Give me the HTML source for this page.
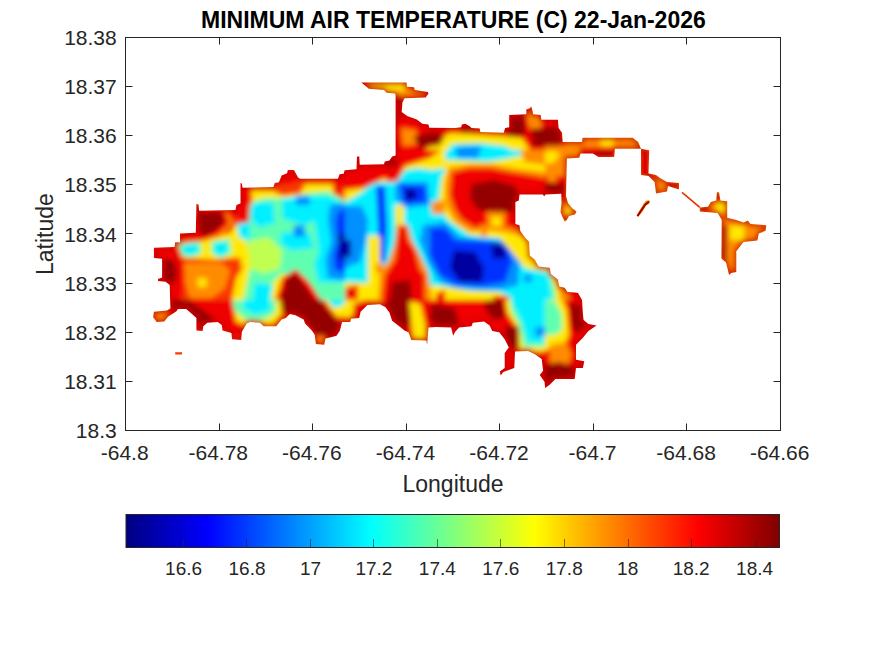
<!DOCTYPE html>
<html><head><meta charset="utf-8"><style>
html,body{margin:0;padding:0;background:#fff;width:875px;height:656px;overflow:hidden}
svg{display:block}
text{font-family:"Liberation Sans",sans-serif;fill:#262626}
</style></head><body>
<svg width="875" height="656" viewBox="0 0 875 656">
<defs>
<linearGradient id="jet" x1="0" x2="1" y1="0" y2="0">
<stop offset="0" stop-color="#000080"/>
<stop offset="0.125" stop-color="#0000ff"/>
<stop offset="0.375" stop-color="#00ffff"/>
<stop offset="0.625" stop-color="#ffff00"/>
<stop offset="0.875" stop-color="#ff0000"/>
<stop offset="1" stop-color="#800000"/>
</linearGradient>
</defs>
<defs><clipPath id="isl"><path d="M153.9 247.8L174.5 246.9L175.2 242.3L180.0 242.3L180.0 233.4L195.8 232.7L196.4 203.9L198.5 204.6L199.2 210.8L235.5 210.0L236.4 204.9L240.5 203.5L240.5 182.9L241.9 183.6L242.5 187.7L273.4 187.0L274.8 182.9L278.9 182.2L281.6 175.4L287.1 173.3L287.8 169.9L294.0 169.9L298.1 177.4L300.2 178.8L337.9 178.8L339.6 174.3L343.7 173.8L344.6 170.2L356.5 169.3L357.0 156.5L359.3 156.5L359.7 164.7L383.9 164.2L384.8 161.5L389.4 160.6L392.2 156.5L395.6 155.5L395.6 94.9L394.9 93.5L386.6 92.8L383.9 90.1L368.8 88.7L364.7 85.3L361.3 82.5L406.5 82.5L407.0 86.7L414.0 87.3L414.8 90.0L427.8 92.0L428.5 93.5L425.7 97.6L404.5 98.3L402.4 102.4L401.7 112.0L407.2 116.0L416.8 119.6L422.3 123.7L428.5 124.4L429.2 127.8L455.0 127.9L461.2 127.2L461.9 124.5L465.3 123.8L469.4 125.9L471.5 127.9L479.7 128.6L480.4 132.0L503.7 132.7L505.1 127.9L509.2 127.2L509.2 114.9L526.3 114.2L526.3 109.4L530.4 108.0L531.1 106.0L532.5 110.8L533.2 114.2L540.7 114.9L541.4 119.7L557.9 119.7L558.6 127.9L562.0 132.7L562.7 142.0L582.0 142.0L582.6 137.8L632.7 137.8L638.2 142.0L641.0 148.8L649.2 150.2L648.5 173.5L656.0 175.0L660.0 178.0L667.0 182.0L679.0 183.0L679.0 189.6L668.0 186.0L667.0 191.5L656.0 193.4L654.6 182.0L648.5 176.0L641.0 175.0L641.0 148.8L614.9 148.8L614.2 157.0L598.4 157.0L592.9 153.6L580.6 153.6L579.2 157.7L566.9 158.4L566.2 187.2L566.0 196.0L568.0 203.0L572.0 208.0L576.5 211.5L575.0 214.5L569.0 216.0L566.8 220.0L564.7 221.5L562.0 216.0L560.5 212.0L561.5 203.0L561.3 193.7L545.5 194.4L544.2 196.5L542.8 194.4L519.5 194.4L518.8 200.6L515.4 202.0L515.4 223.9L519.5 225.3L520.2 230.8L525.0 237.6L529.1 241.7L529.8 255.4L534.6 259.6L538.7 266.4L549.7 267.8L551.0 274.1L557.9 279.6L559.3 286.5L564.7 287.8L567.5 292.0L575.0 292.6L578.0 293.0L582.0 300.0L583.0 315.0L583.6 320.0L588.4 324.1L596.6 325.5L588.4 331.0L582.9 337.8L576.0 344.7L576.0 359.8L584.3 361.2L582.9 368.0L576.0 368.0L574.7 379.0L555.4 379.0L550.0 384.5L545.2 387.9L544.5 381.7L539.7 374.9L543.1 370.8L541.7 359.1L534.9 354.3L528.0 350.9L515.0 351.6L514.3 368.0L503.3 372.1L500.6 375.6L499.9 371.4L504.7 368.0L504.7 352.9L508.8 347.4L504.7 339.2L499.2 332.3L492.3 331.0L489.6 325.5L484.1 321.4L472.8 322.8L471.5 326.2L459.1 327.6L455.2 331.7L453.2 335.8L451.1 327.6L436.0 326.9L428.5 327.6L427.1 344.8L426.4 340.6L411.3 340.0L408.6 332.4L404.5 330.4L397.6 324.9L392.1 320.8L389.4 312.5L385.3 307.0L379.8 304.3L367.4 305.0L360.6 311.8L359.2 318.0L351.0 318.7L350.3 322.1L342.1 322.1L340.0 330.4L336.5 335.8L331.0 337.2L325.5 338.6L324.2 344.8L315.9 344.1L314.6 334.5L311.8 330.4L305.0 323.5L303.6 319.4L295.4 315.3L289.9 313.9L285.8 318.0L281.6 319.4L276.2 326.2L263.8 326.2L259.7 322.8L250.1 322.1L246.7 323.5L241.9 331.7L241.2 340.0L232.1 339.3L231.4 333.1L222.5 330.4L221.8 324.9L217.7 322.1L207.4 322.8L203.3 326.2L202.6 331.0L196.4 330.4L196.4 318.0L190.3 312.5L186.2 309.1L177.9 309.1L176.5 311.2L168.3 316.6L164.2 321.4L156.7 322.1L153.2 317.3L153.9 311.8L167.0 310.5L170.4 308.4L169.7 285.1L165.6 281.7L158.0 281.0L158.0 278.9L162.1 277.5L162.1 258.8L153.9 258.1ZM699.8 207.4L699.8 211.6L717.6 212.9L721.7 219.8L721.4 258.5L726.0 262.6L729.1 275.0L731.2 272.9L736.3 271.9L736.3 251.3L743.5 242.0L757.4 240.4L758.8 233.5L765.6 230.8L766.3 225.3L750.5 223.9L747.8 220.5L743.7 222.5L735.4 219.8L727.2 217.7L727.2 201.3L720.4 200.6L719.0 192.3L716.9 192.3L716.2 200.6L710.8 202.0L708.0 206.7ZM175.2 352.3L182.0 352.3L182.0 354.6L175.2 354.6ZM646.4 200.5L650.0 200.5L649.0 204.0L646.0 205.0L643.0 211.0L638.0 217.0L636.5 215.5L641.0 208.0L644.0 203.0Z"/></clipPath>
<clipPath id="tc0"><rect x="140" y="70" width="205" height="230"/></clipPath>
<clipPath id="tc1"><rect x="345" y="150" width="200" height="150"/></clipPath>
<clipPath id="tc2"><rect x="345" y="70" width="200" height="80"/></clipPath>
<clipPath id="tc3"><rect x="545" y="70" width="240" height="200"/></clipPath>
<clipPath id="tc4"><rect x="140" y="300" width="205" height="100"/></clipPath>
<clipPath id="tc5"><rect x="345" y="300" width="200" height="100"/></clipPath>
<clipPath id="tc6"><rect x="545" y="300" width="60" height="100"/></clipPath>
<clipPath id="tc7"><rect x="545" y="270" width="60" height="30"/></clipPath>
<filter id="bl" x="-5%" y="-5%" width="110%" height="110%"><feGaussianBlur stdDeviation="2.6"/></filter>
</defs>
<g clip-path="url(#isl)">
<g filter="url(#bl)">
<rect x="140" y="70" width="640" height="330" fill="#f83800"/>
<g clip-path="url(#tc0)">
<path d="M177.0 241.4L199.9 236.9L220.4 227.7L231.9 218.6L241.0 216.3L245.6 195.7L252.4 191.1L273.0 191.1L282.1 195.7L300.4 193.4L305.0 184.3L332.4 184.3L334.7 204.9L345.0 202.6L345.0 299.9L231.9 299.9L236.4 278.0L247.9 259.7L236.4 257.4L213.6 259.7L181.6 257.4Z" fill="#ffe800"/>
<path d="M243.3 218.6L252.4 202.6L263.9 198.0L286.7 198.0L305.0 193.4L327.9 191.1L345.0 200.3L345.0 299.9L318.7 299.9L305.0 278.0L282.1 273.4L273.0 282.6L263.9 299.9L243.3 299.9L247.9 278.0L252.4 257.4L245.6 241.4ZM179.3 243.7L199.9 241.4L202.1 252.9L190.7 257.4L179.3 255.1ZM211.3 241.4L229.6 239.1L231.9 252.9L220.4 258.6L211.3 252.9Z" fill="#60ffb0"/>
<path d="M183.9 244.9L197.6 243.7L198.7 252.9L188.4 255.1L182.7 251.7ZM214.7 242.6L227.3 241.4L228.4 252.9L218.1 256.3L213.6 251.7ZM252.4 202.6L273.0 202.6L275.3 223.1L259.3 227.7L250.1 218.6ZM282.1 232.3L309.6 232.3L314.1 248.3L291.3 250.6L279.9 243.7ZM311.9 195.7L327.9 195.7L345.0 204.9L345.0 282.6L318.7 282.6L314.1 264.3L318.7 250.6L314.1 218.6ZM254.7 282.6L273.0 284.9L270.7 299.9L252.4 299.9ZM237.0 224.0L250.0 220.0L250.0 240.0L239.0 238.0Z" fill="#00f0ff"/>
<path d="M282.1 198.0L318.7 195.7L318.7 218.6L305.0 225.4L282.1 218.6Z" fill="#00f0ff"/>
<path d="M247.9 241.4L268.4 236.9L282.1 250.6L279.9 268.9L263.9 273.4L250.1 268.9Z" fill="#c0ff50"/>
<path d="M330.1 204.9L345.0 202.6L345.0 280.3L327.9 278.0L325.6 259.7L331.3 241.4L327.9 218.6ZM295.9 195.7L309.6 195.7L309.6 204.9L295.9 204.9ZM293.6 225.4L305.0 225.4L305.0 236.9L293.6 236.9Z" fill="#0090ff"/>
<path d="M338.1 211.7L345.0 209.4L345.0 273.4L334.7 268.9L333.6 255.1L338.1 241.4L335.9 223.1Z" fill="#0030ff"/>
<path d="M338.1 234.6L345.0 232.3L345.0 262.0L339.3 259.7Z" fill="#0000a0"/>
<path d="M241.0 184.3L250.1 186.6L252.4 200.3L245.6 216.3L236.4 218.6L231.9 214.0L236.4 195.7ZM277.6 170.6L295.9 170.6L300.4 179.7L291.3 184.3L279.9 184.3ZM334.7 170.6L345.0 170.6L345.0 184.3L337.0 195.7L334.7 182.0ZM154.1 248.3L179.3 248.3L186.1 268.9L181.6 299.9L158.7 299.9L154.1 278.0Z" fill="#f00000"/>
<path d="M184.0 263.0L222.0 263.0L230.0 271.0L225.0 288.0L212.0 298.0L190.0 298.0L185.0 282.0Z" fill="#ff8c00"/>
<path d="M236.0 183.0L245.0 183.0L250.0 200.0L249.0 222.0L238.0 224.0ZM197.0 210.0L234.0 210.0L238.0 222.0L230.0 233.0L205.0 240.0L197.0 236.0Z" fill="#f00000"/>
<path d="M179.3 234.6L197.6 211.7L227.3 211.7L234.1 223.1L220.4 236.9L202.1 241.4L181.6 243.7Z" fill="#ff8c00"/>
<path d="M179.3 235.7L197.6 211.7L225.0 212.9L229.6 223.1L218.1 234.6L202.1 240.3L181.6 241.4ZM282.1 278.0L295.9 268.9L309.6 282.6L321.0 299.9L275.3 299.9L279.9 287.1Z" fill="#f00000"/>
<path d="M198.7 210.6L220.4 212.9L225.0 220.9L215.9 230.0L204.4 236.9L199.9 232.3ZM158.7 259.7L174.7 259.7L177.0 278.0L170.1 287.1L161.0 280.3ZM286.7 278.0L295.9 273.4L305.0 287.1L314.1 299.9L279.9 299.9L284.4 289.4Z" fill="#940000"/>
<path d="M197.6 278.0L206.7 278.0L206.7 287.1L197.6 287.1ZM241.0 257.4L247.9 257.4L247.9 266.6L241.0 266.6Z" fill="#ffe800"/>
</g>
<g clip-path="url(#tc1)">
<path d="M345.0 150.0L545.0 150.0L545.0 300.0L345.0 300.0Z" fill="#00f0ff"/>
<path d="M345.0 206.0L362.0 206.0L368.0 220.0L366.0 240.0L360.0 262.0L345.0 268.0ZM396.0 182.0L428.0 182.0L430.0 205.0L405.0 208.0L395.0 198.0ZM423.0 225.0L445.0 222.0L460.0 237.0L500.0 240.0L515.0 245.0L520.0 260.0L518.0 285.0L500.0 290.0L480.0 290.0L455.0 288.0L440.0 282.0L428.0 262.0L420.0 240.0ZM455.0 150.0L480.0 150.0L478.0 158.0L458.0 158.0ZM524.0 275.0L532.0 275.0L532.0 282.0L524.0 282.0Z" fill="#0090ff"/>
<path d="M376.0 186.0L385.0 186.0L387.0 228.0L385.0 262.0L377.0 262.0L378.0 226.0ZM400.0 185.0L425.0 186.0L426.0 202.0L404.0 204.0ZM430.0 228.0L445.0 228.0L455.0 240.0L490.0 242.0L508.0 248.0L512.0 262.0L505.0 282.0L482.0 286.0L455.0 284.0L440.0 275.0L430.0 255.0Z" fill="#0030ff"/>
<path d="M345.0 240.0L351.0 240.0L351.0 257.0L345.0 257.0ZM405.0 189.0L416.0 189.0L416.0 200.0L405.0 200.0ZM454.0 250.0L475.0 252.0L484.0 268.0L482.0 282.0L460.0 282.0L450.0 268.0ZM491.0 243.0L504.0 244.0L506.0 258.0L493.0 259.0Z" fill="#0000a0"/>
<path d="M345.0 150.0L445.0 150.0L445.0 168.0L432.0 170.0L418.0 168.0L405.0 170.0L396.0 182.0L380.0 182.0L370.0 184.0L362.0 192.0L352.0 198.0L345.0 202.0ZM445.0 160.0L492.0 162.0L545.0 150.0L545.0 180.0L445.0 180.0ZM442.0 175.0L460.0 166.0L500.0 160.0L545.0 165.0L545.0 236.0L519.0 236.0L525.0 268.0L500.0 238.0L470.0 235.0L448.0 220.0L438.0 205.0ZM395.0 205.0L404.0 205.0L404.0 253.0L396.0 253.0ZM368.0 236.0L380.0 236.0L380.0 290.0L368.0 289.0ZM345.0 282.0L440.0 286.0L470.0 291.0L500.0 292.0L512.0 300.0L345.0 300.0ZM519.0 236.0L545.0 236.0L545.0 272.0L525.0 268.0Z" fill="#ffe800"/>
<path d="M448.0 168.0L470.0 164.0L492.0 164.0L512.0 168.0L545.0 172.0L545.0 236.0L520.0 236.0L504.0 232.0L488.0 230.0L470.0 232.0L455.0 222.0L446.0 205.0L445.0 185.0ZM520.0 150.0L545.0 150.0L545.0 165.0L525.0 162.0ZM397.0 225.0L408.0 225.0L412.0 240.0L420.0 255.0L428.0 272.0L432.0 300.0L378.0 300.0L380.0 270.0L388.0 262.0L394.0 245.0Z" fill="#ff8c00"/>
<path d="M345.0 150.0L441.0 150.0L430.0 158.0L418.0 162.0L405.0 166.0L398.0 180.0L390.0 182.0L385.0 178.0L364.0 188.0L345.0 190.0ZM385.0 167.0L395.0 167.0L393.0 182.0L387.0 182.0ZM452.0 172.0L470.0 168.0L490.0 168.0L510.0 172.0L535.0 176.0L545.0 178.0L545.0 232.0L522.0 232.0L512.0 228.0L504.0 226.0L488.0 225.0L475.0 228.0L462.0 220.0L455.0 210.0L450.0 195.0ZM399.0 225.0L406.0 225.0L408.0 240.0L415.0 250.0L420.0 270.0L425.0 275.0L425.0 300.0L382.0 300.0L385.0 275.0L395.0 260.0ZM345.0 288.0L358.0 285.0L358.0 300.0L345.0 300.0ZM436.0 294.0L445.0 290.0L445.0 300.0L436.0 300.0ZM493.0 296.0L509.0 296.0L509.0 300.0L493.0 300.0Z" fill="#f00000"/>
<path d="M382.0 158.0L395.0 154.0L398.0 165.0L386.0 168.0ZM472.0 184.0L495.0 180.0L515.0 186.0L521.0 200.0L512.0 212.0L495.0 212.0L478.0 210.0L470.0 198.0ZM392.0 282.0L410.0 280.0L412.0 300.0L390.0 300.0Z" fill="#940000"/>
<path d="M487.0 212.0L505.0 212.0L505.0 226.0L487.0 226.0Z" fill="#ff8c00"/>
<path d="M492.0 217.0L501.0 217.0L501.0 226.0L492.0 226.0Z" fill="#ffe800"/>
<path d="M431.0 202.0L445.0 200.0L445.0 214.0L432.0 214.0ZM376.0 263.0L383.0 263.0L383.0 273.0L376.0 273.0ZM480.0 225.0L488.0 225.0L487.0 237.0L481.0 237.0Z" fill="#ff8c00"/>
</g>
<g clip-path="url(#tc2)">
<path d="M345.0 70.0L545.0 70.0L545.0 150.0L345.0 150.0Z" fill="#f00000"/>
<path d="M361.0 82.0L407.0 82.0L415.0 87.0L428.0 92.0L426.0 97.0L405.0 98.0L395.0 95.0L384.0 92.0L368.0 90.0ZM401.0 128.0L416.0 130.0L418.0 144.0L403.0 146.0ZM525.0 111.0L533.0 106.0L541.0 115.0L541.0 128.0L530.0 129.0Z" fill="#ff8c00"/>
<path d="M361.0 82.0L406.0 82.0L412.0 88.0L400.0 91.0L385.0 90.0L370.0 87.0ZM425.0 150.0L438.0 140.0L450.0 133.0L470.0 134.0L500.0 136.0L522.0 138.0L530.0 150.0Z" fill="#ffe800"/>
<path d="M448.0 150.0L452.0 144.0L480.0 143.0L505.0 146.0L512.0 150.0Z" fill="#00f0ff"/>
<path d="M456.0 147.0L480.0 146.0L482.0 150.0L456.0 150.0Z" fill="#0090ff"/>
<path d="M395.0 95.0L404.0 97.0L402.0 112.0L398.0 125.0L395.0 125.0ZM413.0 137.0L432.0 132.0L445.0 135.0L440.0 145.0L420.0 148.0ZM461.0 123.0L480.0 127.0L480.0 133.0L462.0 133.0ZM506.0 116.0L525.0 116.0L525.0 136.0L508.0 137.0ZM531.0 129.0L545.0 128.0L545.0 146.0L533.0 146.0Z" fill="#940000"/>
</g>
<g clip-path="url(#tc3)">
<path d="M545.0 70.0L785.0 70.0L785.0 300.0L545.0 300.0Z" fill="#ff8c00"/>
<path d="M545.0 110.0L565.0 110.0L566.0 146.0L545.0 146.0ZM580.0 147.0L615.0 147.0L615.0 160.0L580.0 160.0ZM640.0 149.0L650.0 149.0L650.0 176.0L640.0 176.0ZM545.0 176.0L567.0 176.0L567.0 200.0L545.0 200.0Z" fill="#f00000"/>
<path d="M545.0 126.0L563.0 128.0L563.0 145.0L545.0 146.0ZM594.0 151.0L611.0 151.0L611.0 158.0L594.0 158.0Z" fill="#940000"/>
<path d="M545.0 148.0L556.0 146.0L574.0 149.0L567.0 160.0L558.0 170.0L545.0 172.0Z" fill="#ff8c00"/>
<path d="M545.0 152.0L552.0 151.0L560.0 153.0L555.0 162.0L545.0 164.0ZM600.0 138.0L614.0 138.0L613.0 146.0L601.0 146.0ZM716.0 203.0L726.0 203.0L726.0 212.0L716.0 212.0ZM730.0 226.0L744.0 226.0L744.0 240.0L730.0 240.0ZM566.0 205.0L572.0 208.0L572.0 214.0L566.0 214.0Z" fill="#ffe800"/>
<path d="M548.0 170.0L556.0 170.0L556.0 182.0L548.0 182.0Z" fill="#ff8c00"/>
<path d="M720.0 225.0L727.0 225.0L727.0 262.0L720.0 262.0ZM545.0 182.0L566.0 184.0L566.0 194.0L545.0 194.0Z" fill="#940000"/>
</g>
<g clip-path="url(#tc4)">
<path d="M222.7 290.0L282.1 290.0L282.1 312.9L273.0 324.3L247.9 326.6L227.3 319.7L220.4 303.7Z" fill="#ffe800"/>
<path d="M320.0 290.0L345.0 290.0L345.0 316.0L337.0 317.0L328.0 305.0ZM302.0 290.0L312.0 290.0L310.0 296.0L302.0 296.0Z" fill="#ffe800"/>
<path d="M231.9 290.0L277.6 290.0L275.3 312.9L263.9 319.7L245.6 319.7L231.9 308.3Z" fill="#60ffb0"/>
<path d="M243.3 294.6L268.4 292.3L270.7 310.6L254.7 315.1L243.3 308.3ZM327.9 301.4L341.6 290.0L345.0 290.0L345.0 303.7L334.7 308.3Z" fill="#00f0ff"/>
<path d="M165.0 298.0L232.0 298.0L236.0 322.0L215.0 332.0L190.0 327.0L170.0 318.0Z" fill="#f00000"/>
<path d="M170.1 299.1L183.9 296.9L199.9 308.3L213.6 317.4L209.0 328.9L197.6 324.3L183.9 312.9L170.1 308.3Z" fill="#940000"/>
<path d="M298.0 290.0L316.0 292.0L328.0 310.0L342.0 324.0L342.0 343.0L325.0 345.0L312.0 330.0L298.0 315.0ZM280.0 298.0L300.0 298.0L306.0 318.0L292.0 318.0L282.0 312.0Z" fill="#940000"/>
<path d="M154.1 310.6L167.9 310.6L167.9 322.0L154.1 322.0ZM314.1 335.7L325.6 335.7L325.6 344.9L314.1 344.9Z" fill="#ff8c00"/>
<path d="M222.0 322.0L240.0 322.0L244.0 335.0L232.0 336.0Z" fill="#f00000"/>
</g>
<g clip-path="url(#tc5)">
<path d="M345.0 290.0L545.0 290.0L545.0 400.0L345.0 400.0Z" fill="#f00000"/>
<path d="M345.0 290.0L383.9 290.0L381.6 303.7L367.9 308.3L351.9 317.4L345.0 317.4ZM445.6 294.6L482.1 294.6L479.9 299.1L450.1 299.1ZM505.0 299.1L545.0 294.6L545.0 351.7L518.7 351.7L516.4 326.6L507.3 312.9Z" fill="#ffe800"/>
<path d="M450.1 290.0L545.0 290.0L545.0 296.9L505.0 299.1L482.1 296.9L454.7 294.6Z" fill="#00f0ff"/>
<path d="M454.7 290.0L468.4 290.0L468.4 293.4L454.7 293.4Z" fill="#0030ff"/>
<path d="M509.6 301.4L545.0 296.9L545.0 347.1L523.3 347.1L518.7 324.3L511.9 312.9Z" fill="#60ffb0"/>
<path d="M510.0 299.0L545.0 299.0L545.0 342.6L527.9 342.6L521.0 319.7Z" fill="#00f0ff"/>
<path d="M535.0 327.0L546.0 327.0L546.0 336.0L535.0 336.0Z" fill="#0090ff"/>
<path d="M354.1 303.7L367.9 299.1L383.9 301.4L381.6 312.9L365.6 317.4L351.9 319.7Z" fill="#f00000"/>
<path d="M383.9 290.0L404.4 290.0L413.6 303.7L411.3 317.4L406.7 331.1L395.3 324.3L388.4 308.3ZM431.9 303.7L454.7 308.3L459.3 324.3L441.0 328.9L429.6 319.7ZM486.7 296.9L502.7 299.1L505.0 317.4L493.6 319.7L484.4 308.3ZM505.0 326.6L518.7 326.6L518.7 349.4L507.3 347.1Z" fill="#940000"/>
<path d="M409.0 301.4L420.4 303.7L425.0 324.3L425.0 342.6L413.6 340.3L411.3 322.0Z" fill="#ffe800"/>
</g>
<g clip-path="url(#tc6)">
<path d="M545.0 270.0L605.0 270.0L605.0 400.0L545.0 400.0Z" fill="#f00000"/>
<path d="M545.0 290.0L560.0 293.0L567.0 310.0L569.0 335.0L563.0 348.0L545.0 350.0Z" fill="#ffe800"/>
<path d="M550.0 345.0L566.0 342.0L572.0 355.0L566.0 368.0L550.0 366.0Z" fill="#ff8c00"/>
<path d="M545.0 300.0L556.0 302.0L562.0 315.0L562.0 330.0L555.0 335.0L545.0 335.0Z" fill="#60ffb0"/>
<path d="M540.0 365.0L560.0 362.0L578.0 368.0L580.0 380.0L545.0 384.0ZM570.0 302.0L581.0 306.0L586.0 325.0L577.0 334.0L572.0 325.0Z" fill="#940000"/>
</g>
<g clip-path="url(#tc7)">
<path d="M545.0 270.0L605.0 270.0L605.0 300.0L545.0 300.0Z" fill="#f00000"/>
<path d="M545.0 266.0L558.0 272.0L568.0 290.0L570.0 300.0L545.0 300.0Z" fill="#ff8c00"/>
<path d="M545.0 268.0L553.0 275.0L559.0 290.0L561.0 300.0L545.0 300.0Z" fill="#ffe800"/>
<path d="M545.0 270.0L550.0 272.0L555.0 290.0L556.0 300.0L545.0 300.0Z" fill="#60ffb0"/>
<path d="M545.0 272.0L549.0 280.0L552.0 300.0L545.0 300.0Z" fill="#00f0ff"/>
</g>
<path d="M153.9 247.8L174.5 246.9L175.2 242.3L180.0 242.3L180.0 233.4L195.8 232.7L196.4 203.9L198.5 204.6L199.2 210.8L235.5 210.0L236.4 204.9L240.5 203.5L240.5 182.9L241.9 183.6L242.5 187.7L273.4 187.0L274.8 182.9L278.9 182.2L281.6 175.4L287.1 173.3L287.8 169.9L294.0 169.9L298.1 177.4L300.2 178.8L337.9 178.8L339.6 174.3L343.7 173.8L344.6 170.2L356.5 169.3L357.0 156.5L359.3 156.5L359.7 164.7L383.9 164.2L384.8 161.5L389.4 160.6L392.2 156.5L395.6 155.5L395.6 94.9L394.9 93.5L386.6 92.8L383.9 90.1L368.8 88.7L364.7 85.3L361.3 82.5L406.5 82.5L407.0 86.7L414.0 87.3L414.8 90.0L427.8 92.0L428.5 93.5L425.7 97.6L404.5 98.3L402.4 102.4L401.7 112.0L407.2 116.0L416.8 119.6L422.3 123.7L428.5 124.4L429.2 127.8L455.0 127.9L461.2 127.2L461.9 124.5L465.3 123.8L469.4 125.9L471.5 127.9L479.7 128.6L480.4 132.0L503.7 132.7L505.1 127.9L509.2 127.2L509.2 114.9L526.3 114.2L526.3 109.4L530.4 108.0L531.1 106.0L532.5 110.8L533.2 114.2L540.7 114.9L541.4 119.7L557.9 119.7L558.6 127.9L562.0 132.7L562.7 142.0L582.0 142.0L582.6 137.8L632.7 137.8L638.2 142.0L641.0 148.8L649.2 150.2L648.5 173.5L656.0 175.0L660.0 178.0L667.0 182.0L679.0 183.0L679.0 189.6L668.0 186.0L667.0 191.5L656.0 193.4L654.6 182.0L648.5 176.0L641.0 175.0L641.0 148.8L614.9 148.8L614.2 157.0L598.4 157.0L592.9 153.6L580.6 153.6L579.2 157.7L566.9 158.4L566.2 187.2L566.0 196.0L568.0 203.0L572.0 208.0L576.5 211.5L575.0 214.5L569.0 216.0L566.8 220.0L564.7 221.5L562.0 216.0L560.5 212.0L561.5 203.0L561.3 193.7L545.5 194.4L544.2 196.5L542.8 194.4L519.5 194.4L518.8 200.6L515.4 202.0L515.4 223.9L519.5 225.3L520.2 230.8L525.0 237.6L529.1 241.7L529.8 255.4L534.6 259.6L538.7 266.4L549.7 267.8L551.0 274.1L557.9 279.6L559.3 286.5L564.7 287.8L567.5 292.0L575.0 292.6L578.0 293.0L582.0 300.0L583.0 315.0L583.6 320.0L588.4 324.1L596.6 325.5L588.4 331.0L582.9 337.8L576.0 344.7L576.0 359.8L584.3 361.2L582.9 368.0L576.0 368.0L574.7 379.0L555.4 379.0L550.0 384.5L545.2 387.9L544.5 381.7L539.7 374.9L543.1 370.8L541.7 359.1L534.9 354.3L528.0 350.9L515.0 351.6L514.3 368.0L503.3 372.1L500.6 375.6L499.9 371.4L504.7 368.0L504.7 352.9L508.8 347.4L504.7 339.2L499.2 332.3L492.3 331.0L489.6 325.5L484.1 321.4L472.8 322.8L471.5 326.2L459.1 327.6L455.2 331.7L453.2 335.8L451.1 327.6L436.0 326.9L428.5 327.6L427.1 344.8L426.4 340.6L411.3 340.0L408.6 332.4L404.5 330.4L397.6 324.9L392.1 320.8L389.4 312.5L385.3 307.0L379.8 304.3L367.4 305.0L360.6 311.8L359.2 318.0L351.0 318.7L350.3 322.1L342.1 322.1L340.0 330.4L336.5 335.8L331.0 337.2L325.5 338.6L324.2 344.8L315.9 344.1L314.6 334.5L311.8 330.4L305.0 323.5L303.6 319.4L295.4 315.3L289.9 313.9L285.8 318.0L281.6 319.4L276.2 326.2L263.8 326.2L259.7 322.8L250.1 322.1L246.7 323.5L241.9 331.7L241.2 340.0L232.1 339.3L231.4 333.1L222.5 330.4L221.8 324.9L217.7 322.1L207.4 322.8L203.3 326.2L202.6 331.0L196.4 330.4L196.4 318.0L190.3 312.5L186.2 309.1L177.9 309.1L176.5 311.2L168.3 316.6L164.2 321.4L156.7 322.1L153.2 317.3L153.9 311.8L167.0 310.5L170.4 308.4L169.7 285.1L165.6 281.7L158.0 281.0L158.0 278.9L162.1 277.5L162.1 258.8L153.9 258.1ZM699.8 207.4L699.8 211.6L717.6 212.9L721.7 219.8L721.4 258.5L726.0 262.6L729.1 275.0L731.2 272.9L736.3 271.9L736.3 251.3L743.5 242.0L757.4 240.4L758.8 233.5L765.6 230.8L766.3 225.3L750.5 223.9L747.8 220.5L743.7 222.5L735.4 219.8L727.2 217.7L727.2 201.3L720.4 200.6L719.0 192.3L716.9 192.3L716.2 200.6L710.8 202.0L708.0 206.7Z" fill="none" stroke="#d00000" stroke-width="5" stroke-linejoin="round"/>
</g></g>
<path d="M682 192.3L699.8 207.4" stroke="#e83000" stroke-width="1.6"/>
<path d="M649 201.5L645 205L637.5 216" stroke="#a00000" stroke-width="2" fill="none"/>
<rect x="125.5" y="37.5" width="655.0" height="393.0" fill="none" stroke="#262626" stroke-width="1"/>
<path d="M125.50 430.5V423.5M125.50 37.5V44.5M219.50 430.5V423.5M219.50 37.5V44.5M312.50 430.5V423.5M312.50 37.5V44.5M406.50 430.5V423.5M406.50 37.5V44.5M499.50 430.5V423.5M499.50 37.5V44.5M593.50 430.5V423.5M593.50 37.5V44.5M686.50 430.5V423.5M686.50 37.5V44.5M780.50 430.5V423.5M780.50 37.5V44.5M125.5 37.50H132.5M780.5 37.50H773.5M125.5 86.50H132.5M780.5 86.50H773.5M125.5 135.50H132.5M780.5 135.50H773.5M125.5 184.50H132.5M780.5 184.50H773.5M125.5 233.50H132.5M780.5 233.50H773.5M125.5 283.50H132.5M780.5 283.50H773.5M125.5 332.50H132.5M780.5 332.50H773.5M125.5 381.50H132.5M780.5 381.50H773.5M125.5 430.50H132.5M780.5 430.50H773.5" stroke="#262626" stroke-width="1" fill="none"/>
<rect x="126" y="514.5" width="653.5" height="33" fill="url(#jet)" stroke="#262626" stroke-width="1"/>
<path d="M183.50 547V539M246.50 547V539M310.50 547V539M373.50 547V539M437.50 547V539M500.50 547V539M564.50 547V539M628.50 547V539M691.50 547V539M755.50 547V539" stroke="#262626" stroke-width="1" fill="none" opacity="0.6"/>
<g font-size="21">
<text x="124.70" y="459.5" text-anchor="middle">-64.8</text><text x="218.27" y="459.5" text-anchor="middle">-64.78</text><text x="311.84" y="459.5" text-anchor="middle">-64.76</text><text x="405.41" y="459.5" text-anchor="middle">-64.74</text><text x="498.99" y="459.5" text-anchor="middle">-64.72</text><text x="592.56" y="459.5" text-anchor="middle">-64.7</text><text x="686.13" y="459.5" text-anchor="middle">-64.68</text><text x="779.70" y="459.5" text-anchor="middle">-64.66</text><text x="116.7" y="45.10" text-anchor="end">18.38</text><text x="116.7" y="94.22" text-anchor="end">18.37</text><text x="116.7" y="143.35" text-anchor="end">18.36</text><text x="116.7" y="192.47" text-anchor="end">18.35</text><text x="116.7" y="241.60" text-anchor="end">18.34</text><text x="116.7" y="290.73" text-anchor="end">18.33</text><text x="116.7" y="339.85" text-anchor="end">18.32</text><text x="116.7" y="388.98" text-anchor="end">18.31</text><text x="116.7" y="438.10" text-anchor="end">18.3</text>
</g>
<g font-size="19">
<text x="183.60" y="575" text-anchor="middle">16.6</text><text x="247.04" y="575" text-anchor="middle">16.8</text><text x="310.48" y="575" text-anchor="middle">17</text><text x="373.92" y="575" text-anchor="middle">17.2</text><text x="437.36" y="575" text-anchor="middle">17.4</text><text x="500.80" y="575" text-anchor="middle">17.6</text><text x="564.24" y="575" text-anchor="middle">17.8</text><text x="627.68" y="575" text-anchor="middle">18</text><text x="691.12" y="575" text-anchor="middle">18.2</text><text x="754.56" y="575" text-anchor="middle">18.4</text>
</g>
<text x="453.4" y="28" text-anchor="middle" font-size="23" font-weight="bold" style="fill:#000">MINIMUM AIR TEMPERATURE (C) 22-Jan-2026</text>
<text x="453" y="492" text-anchor="middle" font-size="23">Longitude</text>
<text transform="translate(53 234.1) rotate(-90)" text-anchor="middle" font-size="23">Latitude</text>
</svg>
</body></html>
